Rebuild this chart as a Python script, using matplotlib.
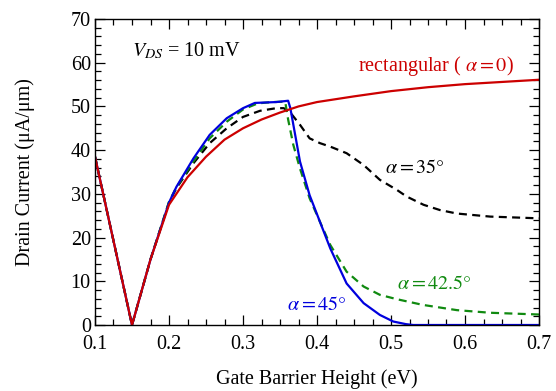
import matplotlib
matplotlib.use("Agg")
import matplotlib.pyplot as plt
from matplotlib.ticker import MultipleLocator

plt.rcParams['font.family'] = ['Liberation Serif', 'DejaVu Serif']
plt.rcParams['mathtext.fontset'] = 'stix'

x_rect = [0.10, 0.15, 0.175, 0.20, 0.225, 0.25, 0.275, 0.30, 0.325, 0.35, 0.375, 0.40, 0.45, 0.50, 0.55, 0.60, 0.65, 0.70]
y_rect = [38.5, 0.0, 15.0, 27.5, 33.8, 38.5, 42.4, 45.0, 47.0, 48.6, 50.0, 51.0, 52.3, 53.5, 54.4, 55.1, 55.6, 56.1]

x_35 = [0.10, 0.15, 0.175, 0.20, 0.21, 0.233, 0.255, 0.278, 0.30, 0.323, 0.345, 0.355, 0.363, 0.377, 0.39, 0.404, 0.418, 0.44, 0.463, 0.485, 0.508, 0.521, 0.544, 0.566, 0.589, 0.634, 0.70]
y_35 = [38.5, 0.0, 15.0, 28.0, 31.3, 37.0, 41.6, 45.0, 47.6, 49.0, 49.6, 49.6, 48.8, 45.8, 42.7, 41.6, 40.8, 39.3, 36.6, 33.2, 30.9, 29.4, 27.5, 26.3, 25.5, 24.8, 24.4]

x_425 = [0.10, 0.15, 0.175, 0.20, 0.21, 0.233, 0.255, 0.278, 0.30, 0.32, 0.34, 0.357, 0.361, 0.368, 0.377, 0.39, 0.404, 0.418, 0.44, 0.463, 0.485, 0.508, 0.543, 0.589, 0.634, 0.70]
y_425 = [38.5, 0.0, 15.0, 28.2, 31.5, 37.4, 42.7, 46.5, 49.3, 50.7, 51.0, 51.1, 47.0, 41.2, 35.8, 29.0, 23.6, 18.3, 12.2, 8.8, 6.9, 5.9, 4.6, 3.4, 2.8, 2.4]

x_45 = [0.10, 0.15, 0.175, 0.20, 0.21, 0.233, 0.255, 0.278, 0.30, 0.316, 0.33, 0.345, 0.361, 0.364, 0.377, 0.39, 0.404, 0.418, 0.44, 0.463, 0.485, 0.503, 0.52, 0.53, 0.60, 0.70]
y_45 = [38.5, 0.0, 15.0, 28.0, 31.6, 38.1, 43.5, 47.3, 49.6, 50.8, 50.9, 51.0, 51.3, 49.6, 37.4, 29.7, 23.6, 17.5, 9.5, 5.0, 2.3, 0.8, 0.2, 0.0, 0.0, 0.0]

x_ticks = [0.1, 0.2, 0.3, 0.4, 0.5, 0.6, 0.7]
y_ticks = [0, 10, 20, 30, 40, 50, 60, 70]

RED = '#cc0000'
BLUE = '#0000dd'
GREEN = '#108a10'

fig = plt.figure(figsize=(5.56, 3.91), dpi=100)
ax = fig.add_axes([95/556, 66/391, 444/556, 306/391])

dash = (0, (3.6, 2.4))
ax.plot(x_35, y_35, color='black', lw=1.6, ls=dash)
ax.plot(x_425, y_425, color=GREEN, lw=1.6, ls=dash)
ax.plot(x_45, y_45, color=BLUE, lw=1.6)
ax.plot(x_rect, y_rect, color=RED, lw=1.6)

fs = 14.5
ax.set_xlim(0.1, 0.7)
ax.set_ylim(0, 70)
ax.set_xticks(x_ticks)
ax.set_xticklabels([f"{v:.1f}" for v in x_ticks])
ax.set_yticks(y_ticks)
ax.set_yticklabels([str(v) for v in y_ticks])
ax.xaxis.set_minor_locator(MultipleLocator(0.025))
ax.yaxis.set_minor_locator(MultipleLocator(2))
ax.tick_params(which='both', direction='in', top=True, right=True, labelsize=fs, width=0.9)
ax.tick_params(which='major', length=7)
ax.tick_params(which='minor', length=4)
ax.tick_params(axis='x', pad=7.5)
ax.tick_params(axis='y', pad=3)
for s in ax.spines.values():
    s.set_linewidth(1.0)

ax.set_xlabel('Gate Barrier Height (eV)', fontsize=fs, labelpad=11)
ax.set_ylabel('Drain Current (μA/μm)', fontsize=fs, labelpad=26)

ax.text(0.150, 61.4, r'$V_{DS}$ = 10 mV', fontsize=fs, va='baseline', ha='left')
ax.text(0.455, 58.1, r'rectangular ( $\alpha = 0$)', fontsize=fs, va='baseline', ha='left', color=RED)
ax.text(0.492, 34.8, r'$\alpha = 35°$', fontsize=fs, va='baseline', ha='left', color='black')
ax.text(0.508, 8.2, r'$\alpha = 42.5°$', fontsize=fs, va='baseline', ha='left', color=GREEN)
ax.text(0.359, 3.4, r'$\alpha = 45°$', fontsize=fs, va='baseline', ha='left', color=BLUE)

fig.savefig('out.png', dpi=100)
